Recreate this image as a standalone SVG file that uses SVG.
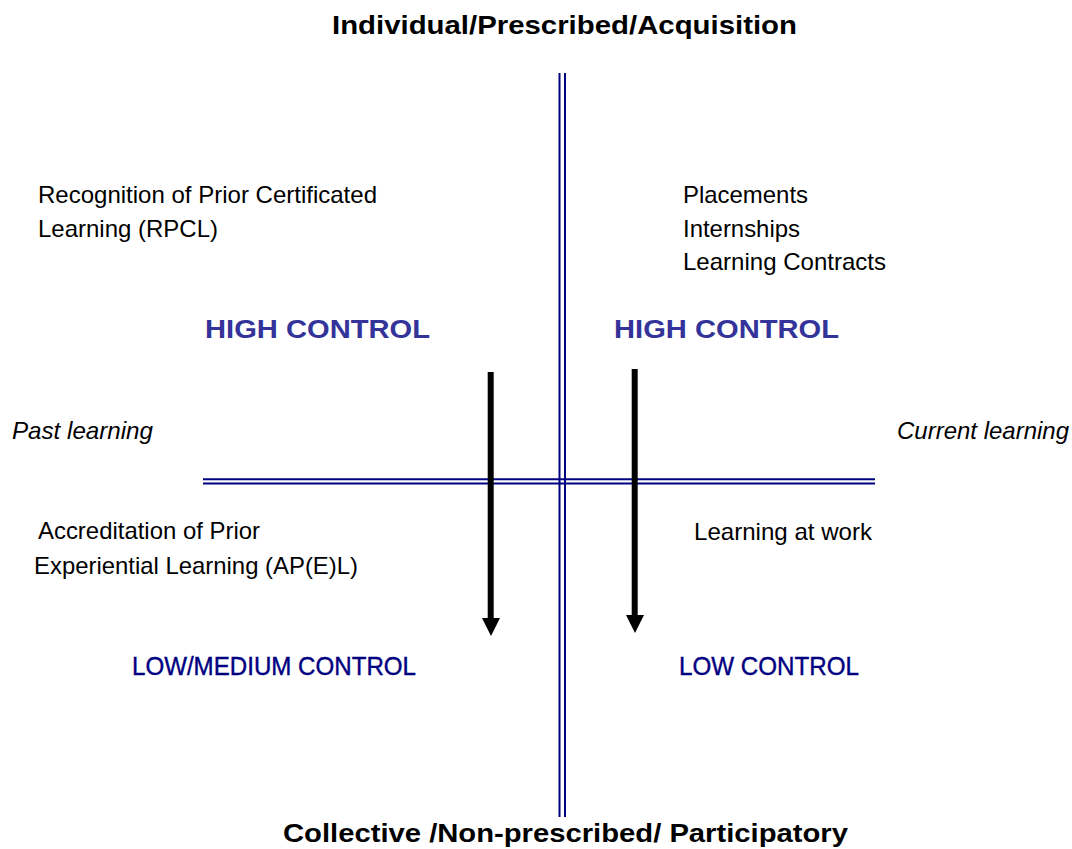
<svg xmlns="http://www.w3.org/2000/svg" width="1072" height="849" viewBox="0 0 1072 849">
<defs>
<style>
.t{font-family:"Liberation Sans",Arial,sans-serif;font-size:24px;fill:#000}
.h{font-family:"Liberation Sans",Arial,sans-serif;font-size:25px;font-weight:bold;fill:#000}
.hc{font-family:"Liberation Sans",Arial,sans-serif;font-size:25px;font-weight:bold;fill:#333399}
.lc{font-family:"Liberation Sans",Arial,sans-serif;font-size:25px;fill:#000080;stroke:#000080;stroke-width:0.4}
.i{font-family:"Liberation Sans",Arial,sans-serif;font-size:24px;font-style:italic;fill:#000}
.ax{stroke:#000080;stroke-width:2;fill:none}
.ar{stroke:#000;stroke-width:6;fill:none}
</style>
</defs>
<rect width="1072" height="849" fill="#fff"/>
<g id="connectors">
<line class="ax" x1="559.5" y1="73" x2="559.5" y2="817"/>
<line class="ax" x1="565" y1="73" x2="565" y2="817"/>
<line class="ax" x1="203" y1="479.3" x2="875" y2="479.3"/>
<line class="ax" x1="203" y1="483.5" x2="875" y2="483.5"/>
<line class="ar" x1="490.7" y1="372" x2="490.7" y2="620"/>
<path d="M482,618 L500,618 L491,636 Z" fill="#000"/>
<line class="ar" x1="634.7" y1="369" x2="634.7" y2="617"/>
<path d="M626,615 L644,615 L635,633 Z" fill="#000"/>
</g>
<g id="title-top"><text class="h" x="332" y="34" textLength="465" lengthAdjust="spacingAndGlyphs">Individual/Prescribed/Acquisition</text></g>
<g id="title-bottom"><text class="h" x="283" y="842" textLength="565" lengthAdjust="spacingAndGlyphs">Collective /Non-prescribed/ Participatory</text></g>
<g id="rpcl">
<text class="t" x="38" y="203" textLength="339" lengthAdjust="spacingAndGlyphs">Recognition of Prior Certificated</text>
<text class="t" x="38" y="237" textLength="180" lengthAdjust="spacingAndGlyphs">Learning (RPCL)</text>
</g>
<g id="placements">
<text class="t" x="683" y="203" textLength="125" lengthAdjust="spacingAndGlyphs">Placements</text>
<text class="t" x="683" y="237" textLength="117" lengthAdjust="spacingAndGlyphs">Internships</text>
<text class="t" x="683" y="270" textLength="203" lengthAdjust="spacingAndGlyphs">Learning Contracts</text>
</g>
<g id="high-left"><text class="hc" x="205" y="338" textLength="225" lengthAdjust="spacingAndGlyphs">HIGH CONTROL</text></g>
<g id="high-right"><text class="hc" x="614" y="338" textLength="225" lengthAdjust="spacingAndGlyphs">HIGH CONTROL</text></g>
<g id="past"><text class="i" x="12" y="439" textLength="141" lengthAdjust="spacingAndGlyphs">Past learning</text></g>
<g id="current"><text class="i" x="897" y="439" textLength="172" lengthAdjust="spacingAndGlyphs">Current learning</text></g>
<g id="apel">
<text class="t" x="38" y="539" textLength="222" lengthAdjust="spacingAndGlyphs">Accreditation of Prior</text>
<text class="t" x="34" y="574" textLength="324" lengthAdjust="spacingAndGlyphs">Experiential Learning (AP(E)L)</text>
</g>
<g id="work"><text class="t" x="694" y="540" textLength="178" lengthAdjust="spacingAndGlyphs">Learning at work</text></g>
<g id="low-medium"><text class="lc" x="132" y="675" textLength="284" lengthAdjust="spacingAndGlyphs">LOW/MEDIUM CONTROL</text></g>
<g id="low"><text class="lc" x="679" y="675" textLength="180" lengthAdjust="spacingAndGlyphs">LOW CONTROL</text></g>
</svg>
